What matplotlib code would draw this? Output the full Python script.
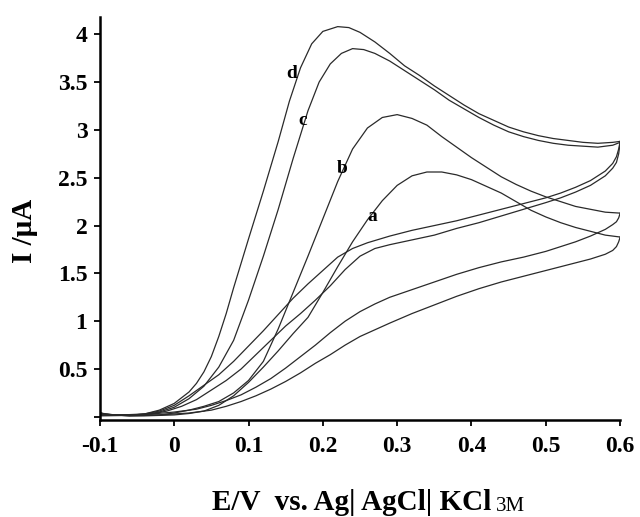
import matplotlib
matplotlib.use('Agg')
import matplotlib.pyplot as plt
from matplotlib.ticker import FixedLocator, FuncFormatter

# forward scans (E / V, I / uA)
d_fwd_E = [-0.1, -0.095, -0.08, -0.06, -0.04, -0.02, 0.0, 0.02, 0.03, 0.04, 0.05, 0.06, 0.07,
           0.08, 0.10, 0.12, 0.14, 0.155, 0.17, 0.185, 0.20, 0.22, 0.235, 0.25, 0.27, 0.29,
           0.31, 0.33, 0.35, 0.37, 0.39, 0.41, 0.43, 0.45, 0.47, 0.49, 0.51, 0.53, 0.55,
           0.57, 0.59, 0.6]
d_fwd_I = [0.05, 0.03, 0.02, 0.015, 0.03, 0.07, 0.14, 0.26, 0.35, 0.47, 0.63, 0.84, 1.08,
           1.35, 1.86, 2.36, 2.88, 3.30, 3.65, 3.90, 4.03, 4.08, 4.07, 4.02, 3.92, 3.80,
           3.67, 3.57, 3.46, 3.36, 3.26, 3.17, 3.10, 3.03, 2.98, 2.94, 2.91, 2.89, 2.87,
           2.86, 2.87, 2.88]

c_fwd_E = [-0.1, -0.08, -0.06, -0.04, -0.02, 0.0, 0.02, 0.04, 0.06, 0.08, 0.10, 0.12, 0.14,
           0.16, 0.18, 0.195, 0.21, 0.225, 0.24, 0.255, 0.27, 0.29, 0.31, 0.33, 0.35, 0.37,
           0.39, 0.41, 0.43, 0.45, 0.47, 0.49, 0.51, 0.53, 0.55, 0.57, 0.59, 0.6]
c_fwd_I = [0.04, 0.02, 0.015, 0.025, 0.05, 0.10, 0.19, 0.32, 0.52, 0.80, 1.22, 1.68, 2.17,
           2.70, 3.20, 3.50, 3.69, 3.80, 3.85, 3.84, 3.80, 3.72, 3.62, 3.52, 3.42, 3.31,
           3.22, 3.13, 3.05, 2.98, 2.93, 2.89, 2.86, 2.84, 2.83, 2.82, 2.84, 2.87]

b_fwd_E = [-0.1, -0.08, -0.06, -0.04, -0.02, 0.0, 0.02, 0.04, 0.06, 0.08, 0.10, 0.12, 0.14,
           0.16, 0.18, 0.20, 0.22, 0.24, 0.26, 0.28, 0.30, 0.32, 0.34, 0.36, 0.38, 0.40,
           0.42, 0.44, 0.46, 0.48, 0.50, 0.52, 0.54, 0.56, 0.58, 0.6]
b_fwd_I = [0.03, 0.02, 0.01, 0.015, 0.02, 0.04, 0.07, 0.11, 0.16, 0.25, 0.38, 0.58, 0.92,
           1.30, 1.68, 2.07, 2.46, 2.80, 3.02, 3.13, 3.16, 3.12, 3.05, 2.93, 2.82, 2.71,
           2.61, 2.51, 2.43, 2.36, 2.30, 2.25, 2.20, 2.17, 2.14, 2.13]

a_fwd_E = [-0.1, -0.08, -0.06, -0.04, -0.02, 0.0, 0.02, 0.04, 0.06, 0.08, 0.10, 0.12, 0.14,
           0.16, 0.18, 0.20, 0.22, 0.24, 0.26, 0.28, 0.30, 0.32, 0.34, 0.36, 0.38, 0.40,
           0.42, 0.44, 0.46, 0.48, 0.50, 0.52, 0.54, 0.56, 0.58, 0.6]
a_fwd_I = [0.03, 0.02, 0.01, 0.01, 0.015, 0.02, 0.035, 0.06, 0.12, 0.22, 0.36, 0.52, 0.69,
           0.87, 1.04, 1.30, 1.57, 1.83, 2.06, 2.26, 2.42, 2.52, 2.56, 2.56, 2.53, 2.48,
           2.41, 2.34, 2.25, 2.16, 2.09, 2.03, 1.98, 1.94, 1.90, 1.88]

# reverse scans, from 0.6 V back to -0.1 V
d_rev_E = [0.6, 0.598, 0.595, 0.59, 0.58, 0.56, 0.54, 0.52, 0.50, 0.47, 0.44, 0.41, 0.38,
           0.35, 0.32, 0.29, 0.26, 0.24, 0.22, 0.20, 0.18, 0.16, 0.14, 0.12, 0.10, 0.08,
           0.06, 0.04, 0.02, 0.0, -0.02, -0.04, -0.07, -0.1]
d_rev_I = [2.88, 2.80, 2.72, 2.65, 2.57, 2.47, 2.40, 2.34, 2.29, 2.23, 2.17, 2.11, 2.05,
           2.00, 1.95, 1.89, 1.82, 1.76, 1.67, 1.53, 1.39, 1.24, 1.07, 0.90, 0.74, 0.58,
           0.44, 0.33, 0.22, 0.12, 0.06, 0.03, 0.02, 0.02]

c_rev_E = [0.6, 0.598, 0.595, 0.59, 0.58, 0.56, 0.54, 0.52, 0.50, 0.47, 0.44, 0.41, 0.38,
           0.35, 0.32, 0.29, 0.27, 0.25, 0.23, 0.21, 0.19, 0.17, 0.15, 0.13, 0.11, 0.09,
           0.07, 0.05, 0.03, 0.01, -0.01, -0.03, -0.06, -0.1]
c_rev_I = [2.87, 2.75, 2.66, 2.60, 2.52, 2.42, 2.35, 2.29, 2.24, 2.17, 2.10, 2.03, 1.97,
           1.90, 1.85, 1.80, 1.76, 1.68, 1.54, 1.37, 1.22, 1.08, 0.95, 0.80, 0.65, 0.50,
           0.38, 0.28, 0.18, 0.11, 0.06, 0.03, 0.02, 0.02]

b_rev_E = [0.6, 0.598, 0.595, 0.59, 0.58, 0.56, 0.54, 0.52, 0.50, 0.47, 0.44, 0.41, 0.38,
           0.35, 0.32, 0.29, 0.27, 0.25, 0.23, 0.21, 0.19, 0.17, 0.15, 0.13, 0.11, 0.09,
           0.07, 0.05, 0.03, 0.0, -0.03, -0.06, -0.1]
b_rev_I = [2.13, 2.08, 2.04, 2.01, 1.96, 1.89, 1.83, 1.78, 1.73, 1.67, 1.62, 1.56, 1.49,
           1.41, 1.33, 1.25, 1.18, 1.10, 1.00, 0.88, 0.75, 0.63, 0.51, 0.40, 0.31, 0.23,
           0.17, 0.12, 0.08, 0.05, 0.03, 0.02, 0.02]

a_rev_E = [0.6, 0.598, 0.595, 0.59, 0.58, 0.56, 0.54, 0.52, 0.50, 0.47, 0.44, 0.41, 0.38,
           0.35, 0.32, 0.29, 0.27, 0.25, 0.23, 0.21, 0.19, 0.17, 0.15, 0.13, 0.11, 0.09,
           0.07, 0.05, 0.02, -0.02, -0.06, -0.1]
a_rev_I = [1.88, 1.83, 1.78, 1.74, 1.70, 1.65, 1.61, 1.57, 1.53, 1.47, 1.41, 1.34, 1.26,
           1.17, 1.08, 0.98, 0.91, 0.84, 0.75, 0.65, 0.56, 0.46, 0.37, 0.29, 0.22, 0.16,
           0.11, 0.07, 0.04, 0.02, 0.015, 0.01]

curve_names = ['a', 'b', 'c', 'd']
label_E = [0.266, 0.226, 0.173, 0.158]
label_I = [2.09, 2.60, 3.10, 3.59]

x_ticks = [-0.1, 0, 0.1, 0.2, 0.3, 0.4, 0.5, 0.6]
y_ticks = [0, 0.5, 1, 1.5, 2, 2.5, 3, 3.5, 4]


def main():
    plt.rcParams['font.family'] = 'Liberation Serif'
    plt.rcParams['font.weight'] = 'bold'

    fig = plt.figure(figsize=(6.4, 5.17), dpi=100)
    ax = fig.add_axes([0.156, 0.188, 0.813, 0.779])

    scans = [(a_fwd_E, a_fwd_I), (a_rev_E, a_rev_I),
             (b_fwd_E, b_fwd_I), (b_rev_E, b_rev_I),
             (c_fwd_E, c_fwd_I), (c_rev_E, c_rev_I),
             (d_fwd_E, d_fwd_I), (d_rev_E, d_rev_I)]
    for e, i in scans:
        ax.plot(e, i, color='#2a2a2a', lw=0.9)

    for name, e, i in zip(curve_names, label_E, label_I):
        ax.text(e, i, name, fontsize=14, fontweight='bold', ha='center', va='center')

    ax.set_xlim(-0.1, 0.6)
    ax.set_ylim(-0.031, 4.18)
    ax.spines['top'].set_visible(False)
    ax.spines['right'].set_visible(False)
    ax.spines['left'].set_linewidth(1.8)
    ax.spines['bottom'].set_linewidth(1.8)

    ax.xaxis.set_major_locator(FixedLocator(x_ticks))
    ax.yaxis.set_major_locator(FixedLocator(y_ticks))
    ax.xaxis.set_major_formatter(FuncFormatter(lambda v, p: '%g' % round(v, 2)))
    ax.yaxis.set_major_formatter(FuncFormatter(lambda v, p: '' if v == 0 else '%g' % v))
    ax.tick_params(axis='x', direction='out', length=4, width=1.3, pad=8, labelsize=17)
    ax.tick_params(axis='y', direction='out', length=4, width=1.3, pad=5, labelsize=17)

    # axis titles
    xl = fig.text(352 / 640, 7 / 517, 'E/V  vs. Ag| AgCl| KCl', fontsize=21,
                  fontweight='bold', ha='center', va='baseline')
    ax.annotate('3M', xy=(1, 0), xycoords=xl, xytext=(3, 0), textcoords='offset points',
                fontsize=15, fontweight='normal', ha='left', va='bottom')
    fig.text(25 / 640, 1 - 231 / 517, 'I /μA', fontsize=21, fontweight='bold',
             rotation=90, ha='center', va='center')

    fig.savefig('out.png', dpi=100)


if __name__ == "__main__":
    main()
